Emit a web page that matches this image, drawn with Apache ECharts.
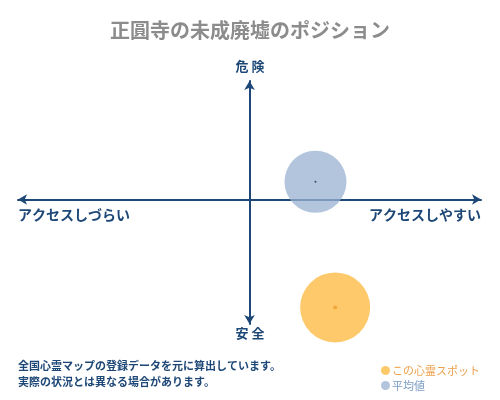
<!DOCTYPE html>
<html>
<head>
<meta charset="utf-8">
<script src="https://cdn.jsdelivr.net/npm/echarts@6/dist/echarts.min.js"></script>
<style>
  html, body { margin: 0; padding: 0; background: #fff; }
  #main { width: 500px; height: 400px; }
</style>
</head>
<body>
<div id="main"></div>
<script>
// 軸ラベル
var axisLabels = { top: '危 険', bottom: '安 全', left: 'アクセスしづらい', right: 'アクセスしやすい' };
// 系列名
var seriesNames = ['この心霊スポット', '平均値'];
// 位置データ [x, y]
var spotValue = [3.7, -9.1];
var averageValue = [2.85, 1.5];
var notes = ['全国心霊マップの登録データを元に算出しています。', '実際の状況とは異なる場合があります。'];

var font = '"Noto Sans CJK JP", sans-serif';
var navy = '#1d4776';

var chart = echarts.init(document.getElementById('main'));

chart.setOption({
  animation: false,
  title: {
    text: '正圓寺の未成廃墟のポジション',
    left: 'center',
    top: 15,
    textStyle: { color: '#8c8c8c', fontSize: 20, fontWeight: 'bold', fontFamily: font }
  },
  grid: { left: 18, right: 19, top: 81, bottom: 76 },
  xAxis: {
    type: 'value', min: -10, max: 10,
    axisLine: { onZero: true, symbol: ['arrow', 'arrow'], symbolSize: [8, 9], lineStyle: { color: navy, width: 2 } },
    axisTick: { show: false }, axisLabel: { show: false }, splitLine: { show: false }
  },
  yAxis: {
    type: 'value', min: -10.5, max: 10,
    axisLine: { onZero: true, symbol: ['arrow', 'arrow'], symbolSize: [8, 9], lineStyle: { color: navy, width: 2 } },
    axisTick: { show: false }, axisLabel: { show: false }, splitLine: { show: false }
  },
  legend: {
    orient: 'vertical',
    left: 376, top: 360,
    itemGap: 4,
    itemWidth: 9, itemHeight: 9,
    data: [
      { name: seriesNames[0], icon: 'circle', textStyle: { color: '#eda04c' } },
      { name: seriesNames[1], icon: 'circle', textStyle: { color: '#7b9cc0' } }
    ],
    textStyle: { fontSize: 11, fontFamily: font, padding: [0, 0, 0, -3] }
  },
  graphic: [
    { type: 'text', left: 'center', top: 60, style: { text: axisLabels.top, fill: navy, font: 'bold 13px ' + font } },
    { type: 'text', left: 'center', top: 327, style: { text: axisLabels.bottom, fill: navy, font: 'bold 13px ' + font } },
    { type: 'text', left: 18, top: 208, style: { text: axisLabels.left, fill: navy, font: 'bold 14px ' + font } },
    { type: 'text', right: 19, top: 208, style: { text: axisLabels.right, fill: navy, font: 'bold 14px ' + font } },
    { type: 'text', left: 18, top: 360, style: { text: notes[0], fill: navy, font: 'bold 11px ' + font } },
    { type: 'text', left: 18, top: 376, style: { text: notes[1], fill: navy, font: 'bold 11px ' + font } }
  ],
  series: [
    {
      name: seriesNames[0], type: 'scatter', symbolSize: 70, z: 2,
      itemStyle: { color: '#fdc96b', opacity: 1 },
      data: [spotValue]
    },
    {
      name: seriesNames[1], type: 'scatter', symbolSize: 62, z: 3,
      itemStyle: { color: '#98b2d2', opacity: 0.75 },
      data: [averageValue]
    },
    {
      name: 'spot-center', type: 'scatter', symbolSize: 4, z: 4,
      itemStyle: { color: '#f0a030' },
      data: [spotValue]
    },
    {
      name: 'avg-center', type: 'scatter', symbolSize: 2, z: 4,
      itemStyle: { color: '#1d2f4a' },
      data: [averageValue]
    }
  ]
});
</script>
</body>
</html>
